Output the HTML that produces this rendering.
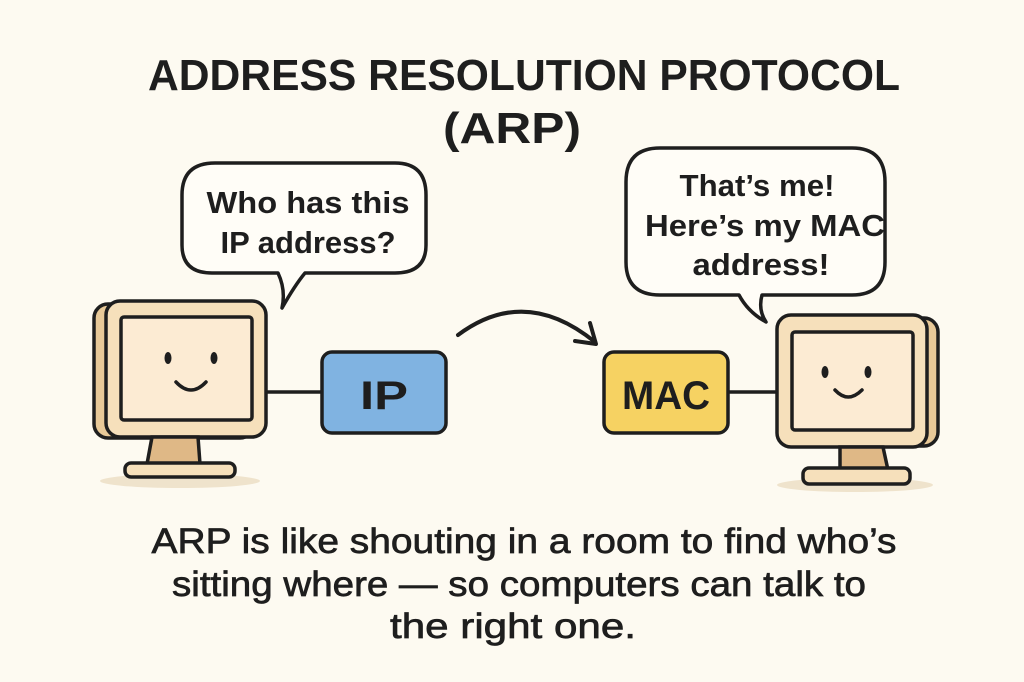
<!DOCTYPE html>
<html><head><meta charset="utf-8"><style>
html,body{margin:0;padding:0;background:#fdfaf1;}
svg{display:block}
text{font-family:"Liberation Sans","DejaVu Sans",sans-serif;fill:#1e1e1e}
</style></head><body>
<svg width="1024" height="682" viewBox="0 0 1024 682" xmlns="http://www.w3.org/2000/svg">
<rect width="1024" height="682" fill="#fdfaf1"/>
<!-- title -->
<text x="524" y="90" text-anchor="middle" font-size="44" font-weight="bold" textLength="752" lengthAdjust="spacingAndGlyphs">ADDRESS RESOLUTION PROTOCOL</text>
<text x="512" y="143" text-anchor="middle" font-size="44" font-weight="bold" textLength="138" lengthAdjust="spacingAndGlyphs">(ARP)</text>

<!-- left bubble -->
<path d="M215,163 H395 Q426,163 426,195 V245 Q426,273 395,273 H305 Q295,285 282,308 Q286,290 278,273 H212 Q182,273 182,245 V195 Q182,163 215,163 Z" fill="#fffdf7" stroke="#1e1e1e" stroke-width="3.5" stroke-linejoin="round"/>
<text x="308" y="213" text-anchor="middle" font-size="31" font-weight="bold" textLength="203" lengthAdjust="spacingAndGlyphs">Who has this</text>
<text x="308" y="253" text-anchor="middle" font-size="31" font-weight="bold" textLength="175" lengthAdjust="spacingAndGlyphs">IP address?</text>

<!-- right bubble -->
<path d="M660,148 H852 Q885,148 885,182 V262 Q885,295 852,295 H762 Q758,310 766,322 Q748,312 739,295 H660 Q626,295 626,262 V182 Q626,148 660,148 Z" fill="#fffdf7" stroke="#1e1e1e" stroke-width="3.5" stroke-linejoin="round"/>
<text x="757" y="196" text-anchor="middle" font-size="31" font-weight="bold" textLength="155" lengthAdjust="spacingAndGlyphs">That’s me!</text>
<text x="765" y="236" text-anchor="middle" font-size="31" font-weight="bold" textLength="240" lengthAdjust="spacingAndGlyphs">Here’s my MAC</text>
<text x="761" y="275" text-anchor="middle" font-size="31" font-weight="bold" textLength="137" lengthAdjust="spacingAndGlyphs">address!</text>

<!-- left computer -->
<ellipse cx="180" cy="481" rx="80" ry="7" fill="#efe3cc"/>
<line x1="266" y1="392" x2="322" y2="392" stroke="#1e1e1e" stroke-width="3.5"/>
<rect x="94" y="304" width="160" height="134" rx="14" fill="#e8c998" stroke="#1e1e1e" stroke-width="3.5"/>
<rect x="106" y="301" width="160" height="136" rx="14" fill="#f6e0bb" stroke="#1e1e1e" stroke-width="3.5"/>
<rect x="121" y="317" width="131" height="103" rx="3" fill="#fcebd3" stroke="#1e1e1e" stroke-width="3.5"/>
<ellipse cx="168" cy="358" rx="3.5" ry="6" fill="#1e1e1e"/>
<ellipse cx="214" cy="358" rx="3.5" ry="6" fill="#1e1e1e"/>
<path d="M176,382 Q191,398 206,382" fill="none" stroke="#1e1e1e" stroke-width="3.5" stroke-linecap="round"/>
<path d="M152,437 L147,464 H200 L198,437 Z" fill="#dfb886" stroke="#1e1e1e" stroke-width="3.5"/>
<rect x="125" y="463" width="110" height="14" rx="6" fill="#f6e0bb" stroke="#1e1e1e" stroke-width="3.5"/>

<!-- IP box -->
<rect x="322" y="352" width="124" height="81" rx="10" fill="#80b3e1" stroke="#1e1e1e" stroke-width="3.5"/>
<text x="384" y="409" text-anchor="middle" font-size="40" font-weight="bold" textLength="48" lengthAdjust="spacingAndGlyphs">IP</text>

<!-- arrow -->
<path d="M458,335 Q525,285 595,342" fill="none" stroke="#1e1e1e" stroke-width="4" stroke-linecap="round"/>
<path d="M575,341 L596,344 L590,323" fill="none" stroke="#1e1e1e" stroke-width="4" stroke-linecap="round" stroke-linejoin="round"/>

<!-- MAC box -->
<rect x="604" y="352" width="124" height="81" rx="10" fill="#f6d262" stroke="#1e1e1e" stroke-width="3.5"/>
<text x="666" y="409" text-anchor="middle" font-size="40" font-weight="bold" textLength="88" lengthAdjust="spacingAndGlyphs">MAC</text>

<!-- right computer -->
<ellipse cx="855" cy="485" rx="78" ry="7" fill="#efe3cc"/>
<line x1="728" y1="392" x2="778" y2="392" stroke="#1e1e1e" stroke-width="3.5"/>
<rect x="780" y="318" width="158" height="128" rx="14" fill="#e8c998" stroke="#1e1e1e" stroke-width="3.5"/>
<rect x="777" y="315" width="150" height="132" rx="14" fill="#f6e0bb" stroke="#1e1e1e" stroke-width="3.5"/>
<rect x="792" y="332" width="121" height="98" rx="3" fill="#fcebd3" stroke="#1e1e1e" stroke-width="3.5"/>
<ellipse cx="825" cy="372" rx="3.5" ry="6" fill="#1e1e1e"/>
<ellipse cx="868" cy="372" rx="3.5" ry="6" fill="#1e1e1e"/>
<path d="M835,390 Q848,404 862,390" fill="none" stroke="#1e1e1e" stroke-width="3.5" stroke-linecap="round"/>
<path d="M840,447 V470 H888 L883,447 Z" fill="#dfb886" stroke="#1e1e1e" stroke-width="3.5"/>
<rect x="803" y="468" width="107" height="16" rx="6" fill="#f6e0bb" stroke="#1e1e1e" stroke-width="3.5"/>

<!-- bottom text -->
<text x="524" y="553" text-anchor="middle" font-size="35" textLength="745" lengthAdjust="spacingAndGlyphs" stroke="#1e1e1e" stroke-width="0.7">ARP is like shouting in a room to find who’s</text>
<text x="519" y="596" text-anchor="middle" font-size="35" textLength="694" lengthAdjust="spacingAndGlyphs" stroke="#1e1e1e" stroke-width="0.7">sitting where — so computers can talk to</text>
<text x="513" y="638" text-anchor="middle" font-size="35" textLength="246" lengthAdjust="spacingAndGlyphs" stroke="#1e1e1e" stroke-width="0.7">the right one.</text>
</svg>
</body></html>
